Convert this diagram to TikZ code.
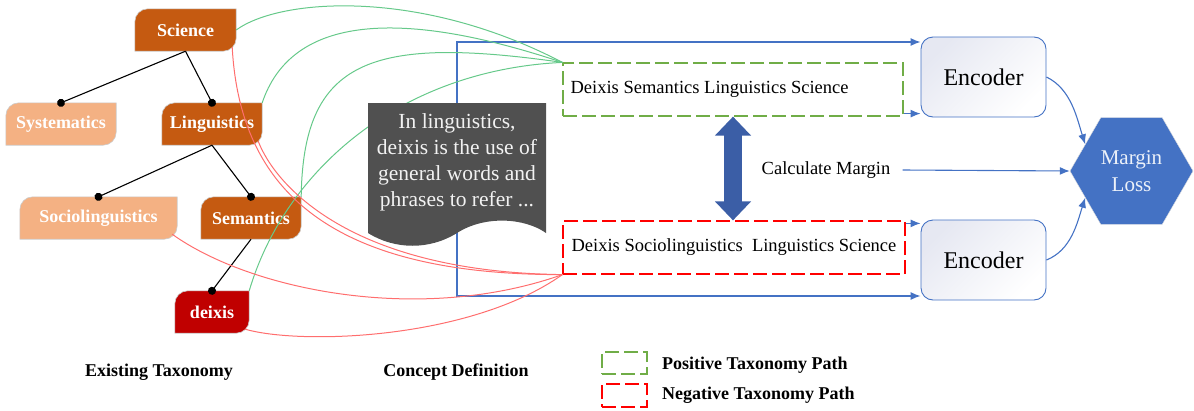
\documentclass[tikz,border=0pt]{standalone}
\usepackage{fontspec}
\setmainfont{Liberation Serif}
\usetikzlibrary{shapes.geometric, arrows.meta, backgrounds, calc}

\definecolor{taxdark}{HTML}{C55A11}
\definecolor{taxlight}{HTML}{F4B183}
\definecolor{deixred}{HTML}{C00000}
\definecolor{docgray}{HTML}{505050}
\definecolor{encblue}{HTML}{4472C4}
\definecolor{encfill}{HTML}{E6E8F2}
\definecolor{gapblue}{HTML}{3B5EA6}
\definecolor{posgreen}{HTML}{70AD47}
\definecolor{negred}{HTML}{FF0000}
\definecolor{posline}{HTML}{66C98A}
\definecolor{negline}{HTML}{FF6E6E}

\begin{document}
\begin{tikzpicture}[x=1pt, y=-1pt, >={Latex[length=10pt,width=8pt]}]
\tikzset{
  tax/.style={minimum height=42pt, inner sep=0pt, text=white,
              font=\fontsize{18}{22}\selectfont\bfseries},
  branch/.style={line width=1.1pt, -{Circle[length=8pt]}, shorten >=-4pt},
  pathbox/.style={draw, dash pattern=on 14pt off 5pt, line width=1.2pt,
                  minimum width=340pt, minimum height=53pt},
  pathtext/.style={anchor=west, inner sep=0pt, font=\fontsize{18.5}{22}\selectfont},
  coder/.style={draw=encblue, line width=0.9pt, rounded corners=12pt,
                minimum width=125pt, minimum height=80pt,
                top color=encfill, bottom color=white, shading angle=45,
                font=\fontsize{24}{28}\selectfont},
  flow/.style={draw=encblue, line width=1.1pt},
  gaparrow/.style={draw=gapblue, line width=18pt,
                   {Triangle[length=19pt,width=35pt]}-{Triangle[length=19pt,width=35pt]}},
  caption/.style={inner sep=0pt, font=\fontsize{18}{22}\selectfont\bfseries}
  };

\useasboundingbox (0,0) rectangle (1194,410);

\node[tax, minimum width=101pt] (sci)   at (185.5,30) {Science};
\node[tax, minimum width=110pt] (sys)   at (61,124)   {Systematics};
\node[tax, minimum width=100pt] (ling)  at (212,124)  {Linguistics};
\node[tax, minimum width=157pt] (socio) at (98.5,218) {Sociolinguistics};
\node[tax, minimum width=100pt] (sem)   at (251,218)  {Semantics};
\node[tax, minimum width=74pt]  (deix)  at (212,312)  {deixis};

\begin{scope}[on background layer]
\foreach \n/\c in {sci/taxdark, sys/taxlight, ling/taxdark, socio/taxlight, sem/taxdark, deix/deixred}
  \filldraw[fill=\c, draw=gray!40, line width=.6pt]
    ([yshift=-13pt]\n.north west) arc[start angle=180, end angle=90, radius=13pt]
    -- (\n.north east) -- ([yshift=13pt]\n.south east)
    arc[start angle=0, end angle=-90, radius=13pt] -- (\n.south west) -- cycle;
\end{scope}

\draw[branch] (sci.south)  -- (sys.north);
\draw[branch] (sci.south)  -- (ling.north);
\draw[branch] (ling.south) -- (socio.north);
\draw[branch] (ling.south) -- (sem.north);
\draw[branch] (sem.south)  -- (deix.north);

\node[pathbox, draw=posgreen] (pos) at (733,89.5) {};
\node[pathtext] (postext) at ([xshift=8pt]pos.west) {Deixis Semantics Linguistics Science};
\node[pathbox, draw=negred, minimum width=342pt] (neg) at (734,247.5) {};
\node[pathtext] (negtext) at ([xshift=9pt]neg.west) {Deixis Sociolinguistics~ Linguistics Science};

\node[coder] (encpos) at (983.5,77)  {Encoder};
\node[coder] (encneg) at (983.5,260) {Encoder};
\node[regular polygon, regular polygon sides=6, minimum size=123pt, inner sep=0pt,
      fill=encblue, draw=gray!25, text=white!90!encblue, align=center,
      font=\fontsize{21}{27}\selectfont] (loss) at (1131.5,171) {Margin\\Loss};

\node[inner xsep=12pt, font=\fontsize{18.5}{22}\selectfont] (calc) at (826,170) {Calculate Margin};
\draw[flow,->] (calc.east) -- (loss.west);

\draw[gaparrow] (pos.south) -- (neg.north -| pos.south);

\coordinate (ftop) at (457,42);
\coordinate (fbot) at (457,296);
\coordinate (posout) at ([yshift=3pt]pos.south east);
\coordinate (negout) at ([yshift=-3pt]neg.north east);
\draw[flow,<->] (ftop -| encpos.west) -- (ftop) -- (fbot) -- (fbot -| encneg.west);
\draw[flow,->] (posout) -- (posout -| encpos.west);
\draw[flow,->] (negout) -- (negout -| encneg.west);
\draw[flow,->] (encpos.east) .. controls +(25,12) and +(-8,-25) .. (loss.150);
\draw[flow,->] (encneg.east) .. controls +(25,-10) and +(-8,25) .. (loss.210);

\begin{scope}[draw=posline, line width=1pt]
\draw (sci.east)        .. controls (280,-2) and (420,-12) .. (pos.north west);
\draw (ling.north east) .. controls (290,20) and (390,5)  .. (pos.north west);
\draw (sem.north east)  .. controls (303,60) and (370,35) .. (pos.north west);
\draw (deix.north east) .. controls (285,170) and (400,70) .. (pos.north west);
\end{scope}

\begin{scope}[draw=negline, line width=1pt]
\draw ([shift={(-4pt,4pt)}]sci.south east)   .. controls (240,190) and (330,275) .. (neg.south west);
\draw ([shift={(-4pt,4pt)}]ling.south east)  .. controls (275,185) and (350,272) .. (neg.south west);
\draw ([shift={(-5pt,5pt)}]socio.south east) .. controls (250,290) and (420,325) .. (neg.south west);
\draw ([shift={(-4pt,4pt)}]deix.south east)  .. controls (300,345) and (470,340) .. (neg.south west);
\end{scope}

\fill[docgray] (368,103) -- (546,103) -- (546,233)
  .. controls (525,218) and (485,215) .. (457,233)
  .. controls (430,250) and (395,250) .. (368,233) -- cycle;
\node[align=center, text=white!95!black, font=\fontsize{21.5}{26}\selectfont] (def) at (457,162)
  {In linguistics,\\deixis is the use of\\general words and\\phrases to refer ...};

\node[caption] (exist)   at (159,372) {Existing Taxonomy};
\node[caption] (concept) at (456,372) {Concept Definition};
\node[pathbox, draw=posgreen, minimum width=45pt, minimum height=22pt] (legpos) at (624.5,363) {};
\node[caption, anchor=west] (legpostext) at (662,365) {Positive Taxonomy Path};
\node[pathbox, draw=negred, minimum width=45pt, minimum height=23pt] (legneg) at (624.5,395.5) {};
\node[caption, anchor=west] (legnegtext) at (662,395) {Negative Taxonomy Path};

\end{tikzpicture}
\end{document}
